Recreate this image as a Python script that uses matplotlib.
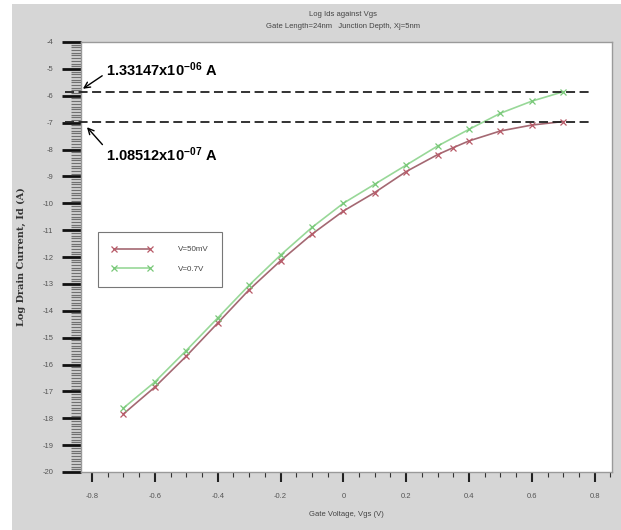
import numpy as np
import matplotlib
matplotlib.use("Agg")
import matplotlib.pyplot as plt
from matplotlib.patches import Rectangle
from matplotlib.ticker import MultipleLocator

plt.rcParams['font.family'] = ['Liberation Sans', 'DejaVu Sans']
plt.rcParams['mathtext.fontset'] = 'custom'
plt.rcParams['mathtext.bf'] = 'Liberation Sans:bold'
plt.rcParams['mathtext.rm'] = 'Liberation Sans'
plt.rcParams['axes.unicode_minus'] = False

# data
vgs_50mv = [-0.7, -0.6, -0.5, -0.4, -0.3, -0.2, -0.1, 0.0, 0.1, 0.2, 0.3, 0.35, 0.4, 0.5, 0.6, 0.7]
log_id_50mv = [-17.84, -16.84, -15.69, -14.46, -13.22, -12.14, -11.15, -10.29, -9.60,
               -8.82, -8.19, -7.93, -7.68, -7.31, -7.09, -6.96]
vgs_07v = [-0.7, -0.6, -0.5, -0.4, -0.3, -0.2, -0.1, 0.0, 0.1, 0.2, 0.3, 0.4, 0.5, 0.6, 0.7]
log_id_07v = [-17.62, -16.65, -15.48, -14.27, -13.05, -11.93, -10.90, -10.0, -9.29,
              -8.58, -7.87, -7.25, -6.65, -6.20, -5.85]

ref_currents = [1.33147e-06, 1.08512e-07]
ref_labels = ['1.33147x10$\\mathbf{^{-06}}$ A', '1.08512x10$\\mathbf{^{-07}}$ A']

W, H = 621, 530
fig = plt.figure(figsize=(W / 100, H / 100), dpi=100)
fig.patch.set_facecolor('white')
fig.patches.append(Rectangle((12 / W, 0), 1 - 12 / W, 1 - 4 / H, transform=fig.transFigure,
                             facecolor='#d6d6d6', edgecolor='none', zorder=-10))

ax = fig.add_axes([81 / W, 58 / H, (612 - 81) / W, (472 - 42) / H])
ax.set_facecolor('white')

ax.plot(vgs_50mv, log_id_50mv, color='#a46872', lw=1.2, marker='x', ms=5,
        mec='#b85a68', mew=0.9, label='V=50mV')
ax.plot(vgs_07v, log_id_07v, color='#98d898', lw=1.2, marker='x', ms=5,
        mec='#78c878', mew=0.9, label='V=0.7V')

# reference currents
for cur in ref_currents:
    ax.plot([-0.886, 0.794], [np.log10(cur)] * 2, ls=(0, (5, 2.5)), color='#222222',
            lw=1.3, clip_on=False, zorder=5)

ax.annotate(ref_labels[0], xy=(-0.829, -5.74), xytext=(-0.755, -5.02),
            fontsize=10.5, fontweight='bold', va='center', ha='left',
            arrowprops=dict(arrowstyle='->', lw=1.0, color='black', shrinkA=1, shrinkB=0,
                            relpos=(0, 0.3)))
ax.annotate(ref_labels[1], xy=(-0.816, -7.17), xytext=(-0.755, -8.18),
            fontsize=10.5, fontweight='bold', va='center', ha='left',
            arrowprops=dict(arrowstyle='->', lw=1.0, color='black', shrinkA=1, shrinkB=0,
                            relpos=(0, 0.8)))

ax.set_xlim(-0.835, 0.855)
ax.set_ylim(-20, -4)

ax.xaxis.set_minor_locator(MultipleLocator(0.05))
ax.yaxis.set_major_locator(MultipleLocator(1))
ax.yaxis.set_minor_locator(MultipleLocator(0.1))
ax.set_xticks(np.arange(-0.8, 0.81, 0.2))
ax.set_xticklabels(['-0.8', '-0.6', '-0.4', '-0.2', '0', '0.2', '0.4', '0.6', '0.8'])

ax.tick_params(axis='x', which='major', direction='out', length=7, width=1.5,
               labelsize=5.5, pad=8, colors='#222222', labelcolor='#555555')
ax.tick_params(axis='x', which='minor', direction='out', length=3.5, width=0.8, colors='#333333')
ax.tick_params(axis='y', which='major', direction='out', length=14, width=2,
               labelsize=5.5, pad=6, colors='#111111', labelcolor='#555555')
ax.tick_params(axis='y', which='minor', direction='out', length=7.5, width=0.9, colors='#707070')

for side in ['top', 'right', 'bottom', 'left']:
    ax.spines[side].set_color('#9a9a9a')
    ax.spines[side].set_linewidth(1.0)

ax.set_xlabel('Gate Voltage, Vgs (V)', fontsize=5.5, color='#444444', labelpad=8)
ax.set_ylabel('Log Drain Current, Id (A)', fontsize=7, fontweight='bold', family='DejaVu Serif',
              color='#333333', labelpad=12)

fig.text(343 / W, 1 - 14 / H, 'Log Ids against Vgs', fontsize=5.5, ha='center', va='center',
         color='#444444')
fig.text(343 / W, 1 - 27 / H, 'Gate Length=24nm   Junction Depth, Xj=5nm', fontsize=5.5,
         ha='center', va='center', color='#444444')

leg = ax.legend(loc='upper left', bbox_to_anchor=(17 / 531, (473 - 233) / 430),
                fontsize=5.8, numpoints=2, handlelength=5.0, handletextpad=3.2,
                borderpad=1.7, labelspacing=1.5, fancybox=False, frameon=True,
                borderaxespad=0)
leg.get_frame().set_edgecolor('#555555')
leg.get_frame().set_linewidth(0.8)
for t in leg.get_texts():
    t.set_color('#444444')

fig.savefig('out.png', dpi=100)
